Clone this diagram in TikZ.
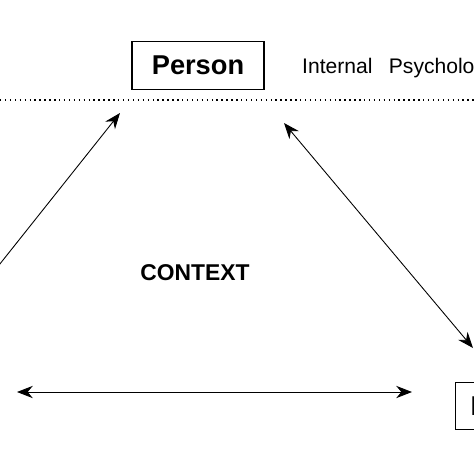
\documentclass[tikz,border=0pt]{standalone}
\usepackage{fontspec}
\setmainfont{Liberation Sans}
\usetikzlibrary{arrows.meta,positioning,calc}

\begin{document}
\begin{tikzpicture}[x=0.02cm,y=-0.02cm,
  box/.style={draw,line width=0.6pt,minimum height=0.95cm,font=\fontsize{15.5}{18}\selectfont\bfseries},
  link/.style={line width=0.5pt,{Stealth[length=9pt,width=7pt]}-{Stealth[length=9pt,width=7pt]}}]
\useasboundingbox (0,0) rectangle (474,474);
\clip (0,0) rectangle (474,474);

\node[box,minimum width=2.64cm] (p) at (198,65.5) {Person};
\node[anchor=west,font=\fontsize{12}{14}\selectfont] (int) at (296,68) {Internal\hspace{6pt} Psychological};
\node[box,anchor=west,inner xsep=0.3cm] (b) at (455,406) {Behaviour};
\node[font=\fontsize{13}{15}\selectfont\bfseries] (ctx) at (195,273) {CONTEXT};

\coordinate (l0) at (0,100);
\coordinate (r0) at (474,100);
\coordinate (e) at (-20,289);
\coordinate (pl) at (120,113);
\coordinate (pr) at (284,123);
\coordinate (br) at (473,348);
\coordinate (hl) at (17,392);
\coordinate (hr) at (412,392);

\draw[dotted,line width=0.8pt] (l0)--(r0);
\draw[link] (e)--(pl);
\draw[link] (pr)--(br);
\draw[link] (hl)--(hr);
\end{tikzpicture}
\end{document}
